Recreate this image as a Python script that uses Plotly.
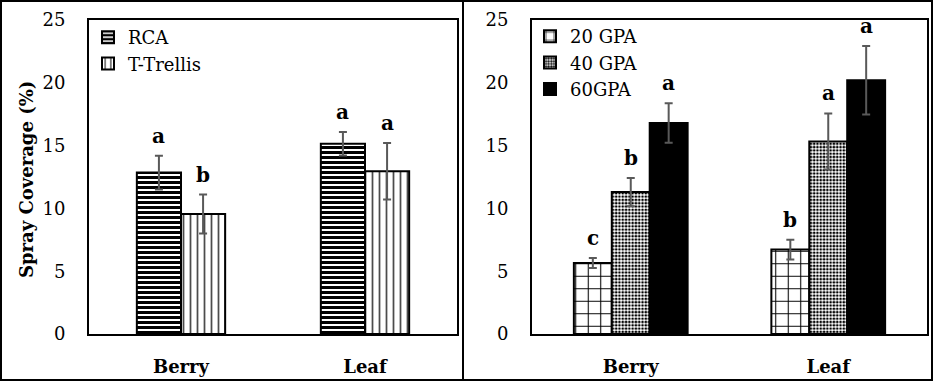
import plotly.graph_objects as go

# ---------------- data ----------------
categories = ["Berry", "Leaf"]

rca = [12.85, 15.15]
rca_err = [1.35, 0.93]
ttrellis = [9.55, 12.95]
ttrellis_err = [1.55, 2.25]
letters_rca = ["a", "a"]
letters_tt = ["b", "a"]

gpa20 = [5.66, 6.72]
gpa20_err = [0.4, 0.78]
gpa40 = [11.3, 15.33]
gpa40_err = [1.12, 2.23]
gpa60 = [16.8, 20.2]
gpa60_err = [1.58, 2.72]
letters_20 = ["c", "b"]
letters_40 = ["b", "a"]
letters_60 = ["a", "a"]

y_ticks = [0, 5, 10, 15, 20, 25]

# ---------------- style ----------------
W, H = 933, 381
FONT = "DejaVu Serif"
ERR = dict(type="data", visible=True, color="#595959", thickness=2, width=4)
LINE = dict(color="black", width=2)


def px_x(v):
    return v / W


def px_y(v):
    return 1 - v / H


fig = go.Figure()

# left panel bars
wl = 0.24
left_series = [
    ("RCA", rca, rca_err, letters_rca,
     dict(shape="-", size=5, solidity=0.6, fgcolor="black", bgcolor="white", fgopacity=1), -wl),
    ("T-Trellis", ttrellis, ttrellis_err, letters_tt,
     dict(shape="|", size=7, solidity=0.25, fgcolor="black", bgcolor="white", fgopacity=0.7), 0.0),
]
for name, vals, errs, lets, pat, off in left_series:
    fig.add_trace(go.Bar(
        x=categories, y=vals, name=name, width=wl, offset=off,
        marker=dict(color="white", pattern=pat, line=LINE),
        error_y=dict(array=errs, **ERR),
        xaxis="x", yaxis="y", legend="legend",
    ))
    for i, (v, e, t) in enumerate(zip(vals, errs, lets)):
        fig.add_annotation(x=i + off + wl / 2, y=v + e, xref="x", yref="y", text=t,
                           showarrow=False, yanchor="bottom", yshift=6,
                           font=dict(family=FONT, size=20, color="black", weight="bold"))

# right panel bars
wr = 0.192
right_series = [
    ("20 GPA", gpa20, gpa20_err, letters_20,
     dict(shape="+", size=12.5, solidity=0.16, fgcolor="black", bgcolor="white", fgopacity=1), -1.5 * wr),
    ("40 GPA", gpa40, gpa40_err, letters_40,
     dict(shape=".", size=3.3, solidity=0.5, fgcolor="black", bgcolor="white", fgopacity=1), -0.5 * wr),
    ("60GPA", gpa60, gpa60_err, letters_60, None, 0.5 * wr),
]
for name, vals, errs, lets, pat, off in right_series:
    marker = dict(color="black" if pat is None else "white", line=LINE)
    if pat is not None:
        marker["pattern"] = pat
    fig.add_trace(go.Bar(
        x=categories, y=vals, name=name, width=wr, offset=off,
        marker=marker,
        error_y=dict(array=errs, **ERR),
        xaxis="x2", yaxis="y2", legend="legend2",
    ))
    for i, (v, e, t) in enumerate(zip(vals, errs, lets)):
        fig.add_annotation(x=i + off + wr / 2, y=v + e, xref="x2", yref="y2", text=t,
                           showarrow=False, yanchor="bottom", yshift=6,
                           font=dict(family=FONT, size=20, color="black", weight="bold"))

axis_common = dict(showline=True, linecolor="black", linewidth=2, mirror=True,
                   showgrid=False, zeroline=False, ticks="", automargin=False)
yaxis_common = dict(axis_common, range=[0, 25], tickvals=y_ticks,
                    tickfont=dict(family=FONT, size=18, color="black"),
                    ticklabelstandoff=18)
xaxis_common = dict(axis_common, type="category", categoryorder="array",
                    categoryarray=categories, range=[-0.5, 1.5],
                    tickfont=dict(family=FONT, size=18, color="black", weight="bold"),
                    ticklabelstandoff=15)

legend_common = dict(xanchor="left", yanchor="top", bgcolor="rgba(0,0,0,0)",
                     font=dict(family=FONT, size=18, color="black"),
                     itemwidth=30, tracegroupgap=0)

ydom = [px_y(334), px_y(20)]
fig.update_layout(
    template="none",
    width=W, height=H,
    margin=dict(l=0, r=0, t=0, b=0, autoexpand=False),
    paper_bgcolor="white", plot_bgcolor="white",
    barmode="overlay",
    font=dict(family=FONT, color="black"),
    xaxis=dict(xaxis_common, domain=[px_x(89), px_x(457)], anchor="y"),
    yaxis=dict(yaxis_common, domain=ydom, anchor="x"),
    xaxis2=dict(xaxis_common, domain=[px_x(532), px_x(927)], anchor="y2"),
    yaxis2=dict(yaxis_common, domain=ydom, anchor="x2"),
    legend=dict(legend_common, x=px_x(88), y=px_y(19)),
    legend2=dict(legend_common, x=px_x(530), y=px_y(18)),
    showlegend=True,
)

fig.add_annotation(x=px_x(26), y=px_y(180), xref="paper", yref="paper",
                   xanchor="center", yanchor="middle",
                   text="Spray Coverage (%)", textangle=-90, showarrow=False,
                   font=dict(family=FONT, size=18, color="black", weight="bold"))

# panel borders
fig.add_shape(type="rect", xref="paper", yref="paper", x0=px_x(1), x1=px_x(932), y0=px_y(380), y1=px_y(1),
              line=dict(color="black", width=2))
fig.add_shape(type="line", xref="paper", yref="paper", x0=px_x(463), x1=px_x(463), y0=px_y(380), y1=px_y(1),
              line=dict(color="black", width=2))

fig.write_html("out.html", config={"displayModeBar": False},
               post_script="document.body.style.margin='0';document.body.style.overflow='hidden';")
